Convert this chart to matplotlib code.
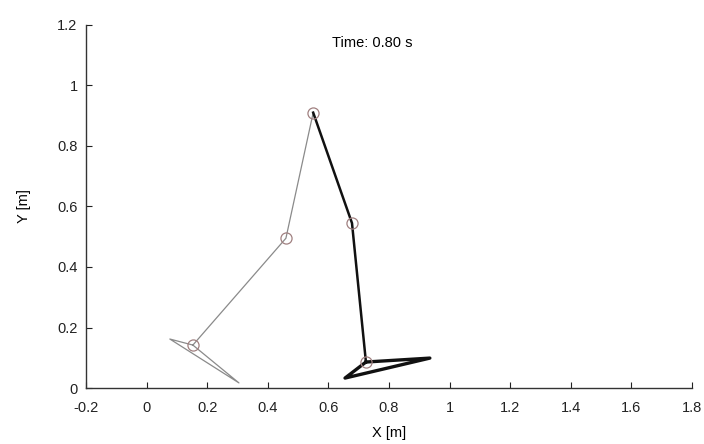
import matplotlib
matplotlib.use("Agg")
import matplotlib.pyplot as plt

plt.rcParams['font.family'] = ['Liberation Sans', 'DejaVu Sans']

# Swing leg (thin): hip, knee, ankle, heel, toe, ankle
swing_x = [0.55, 0.46, 0.153, 0.077, 0.305, 0.153]
swing_y = [0.91, 0.495, 0.142, 0.162, 0.017, 0.142]
# Stance leg (thick): hip, knee, ankle, heel, toe, ankle
stance_x = [0.55, 0.678, 0.724, 0.655, 0.935, 0.724]
stance_y = [0.91, 0.545, 0.086, 0.033, 0.099, 0.086]
# Joint markers
joint_x = [0.55, 0.46, 0.153, 0.678, 0.724]
joint_y = [0.91, 0.495, 0.142, 0.545, 0.086]

time_label = "Time: 0.80 s"
xticks = [-0.2, 0, 0.2, 0.4, 0.6, 0.8, 1, 1.2, 1.4, 1.6, 1.8]
yticks = [0, 0.2, 0.4, 0.6, 0.8, 1, 1.2]

fig = plt.figure(figsize=(7.04, 4.44), dpi=100)
ax = fig.add_axes([0.122, 0.126, 0.861, 0.818])

ax.plot(swing_x, swing_y, color='#8a8a8a', lw=0.9)
ax.plot(stance_x[:3], stance_y[:3], color='#111111', lw=1.8)
ax.plot(stance_x[2:], stance_y[2:], color='#111111', lw=2.4)
ax.plot(joint_x, joint_y, 'o', ms=8, mfc='none', mec='#a08080', mew=0.9)

ax.text(0.744, 1.139, time_label, ha='center', va='center', fontsize=10.5)

ax.set_xlim(-0.2, 1.8)
ax.set_ylim(0, 1.2)
ax.set_xticks(xticks)
ax.set_yticks(yticks)
ax.set_xticklabels([f"{t:g}" for t in xticks])
ax.set_yticklabels([f"{t:g}" for t in yticks])
ax.tick_params(direction='in', length=4, labelsize=10.5, colors='#222222')
ax.tick_params(axis='x', pad=9)
ax.tick_params(axis='y', pad=6)
ax.spines['top'].set_visible(False)
ax.spines['right'].set_visible(False)
for s in ('left', 'bottom'):
    ax.spines[s].set_color('#333333')
    ax.spines[s].set_linewidth(1.0)
ax.set_xlabel("X [m]", fontsize=10.5, labelpad=8)
ax.set_ylabel("Y [m]", fontsize=10.5, labelpad=19)

fig.savefig("out.png", dpi=100, facecolor='white')
